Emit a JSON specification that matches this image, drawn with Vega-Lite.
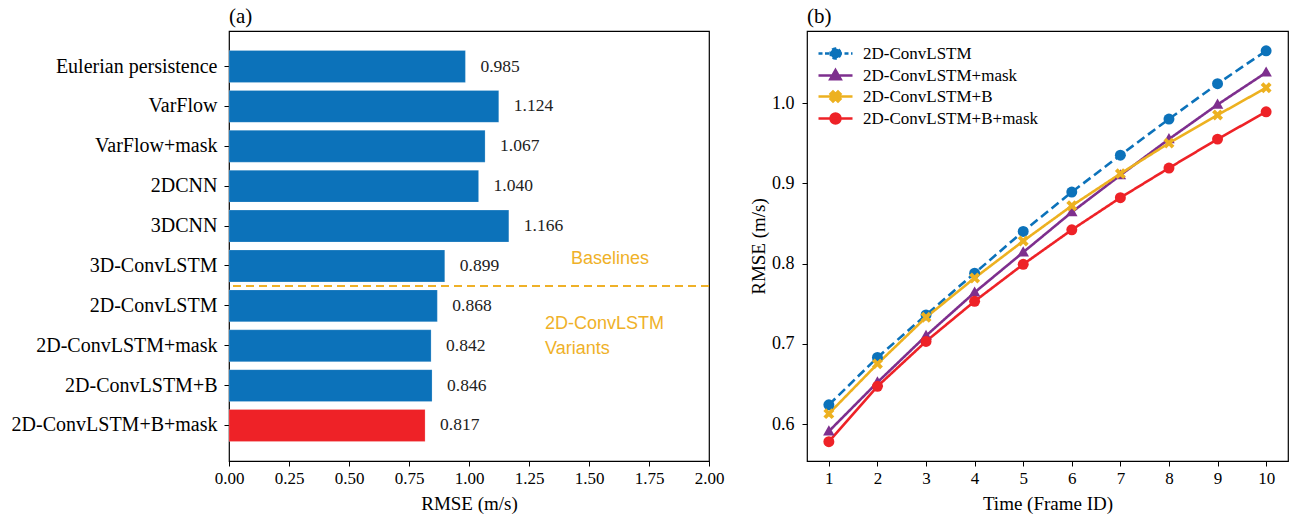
{
  "$schema": "https://vega.github.io/schema/vega-lite/v6.json",
  "background": "white",
  "padding": {"left": 10, "top": 5, "right": 8, "bottom": 6},
  "spacing": 23,
  "resolve": {"scale": {"color": "independent", "x": "independent", "y": "independent"}, "legend": {"color": "independent"}},
  "datasets": {
    "bars": [
      {"model": "Eulerian persistence", "rmse": 0.985, "group": "other"},
      {"model": "VarFlow", "rmse": 1.124, "group": "other"},
      {"model": "VarFlow+mask", "rmse": 1.067, "group": "other"},
      {"model": "2DCNN", "rmse": 1.040, "group": "other"},
      {"model": "3DCNN", "rmse": 1.166, "group": "other"},
      {"model": "3D-ConvLSTM", "rmse": 0.899, "group": "other"},
      {"model": "2D-ConvLSTM", "rmse": 0.868, "group": "other"},
      {"model": "2D-ConvLSTM+mask", "rmse": 0.842, "group": "other"},
      {"model": "2D-ConvLSTM+B", "rmse": 0.846, "group": "other"},
      {"model": "2D-ConvLSTM+B+mask", "rmse": 0.817, "group": "best"}
    ],
    "lines": [
      {"frame": 1, "model": "2D-ConvLSTM", "rmse": 0.624},
      {"frame": 2, "model": "2D-ConvLSTM", "rmse": 0.683},
      {"frame": 3, "model": "2D-ConvLSTM", "rmse": 0.736},
      {"frame": 4, "model": "2D-ConvLSTM", "rmse": 0.788},
      {"frame": 5, "model": "2D-ConvLSTM", "rmse": 0.840},
      {"frame": 6, "model": "2D-ConvLSTM", "rmse": 0.889},
      {"frame": 7, "model": "2D-ConvLSTM", "rmse": 0.935},
      {"frame": 8, "model": "2D-ConvLSTM", "rmse": 0.980},
      {"frame": 9, "model": "2D-ConvLSTM", "rmse": 1.024},
      {"frame": 10, "model": "2D-ConvLSTM", "rmse": 1.065},
      {"frame": 1, "model": "2D-ConvLSTM+mask", "rmse": 0.591},
      {"frame": 2, "model": "2D-ConvLSTM+mask", "rmse": 0.652},
      {"frame": 3, "model": "2D-ConvLSTM+mask", "rmse": 0.710},
      {"frame": 4, "model": "2D-ConvLSTM+mask", "rmse": 0.764},
      {"frame": 5, "model": "2D-ConvLSTM+mask", "rmse": 0.814},
      {"frame": 6, "model": "2D-ConvLSTM+mask", "rmse": 0.864},
      {"frame": 7, "model": "2D-ConvLSTM+mask", "rmse": 0.910},
      {"frame": 8, "model": "2D-ConvLSTM+mask", "rmse": 0.955},
      {"frame": 9, "model": "2D-ConvLSTM+mask", "rmse": 0.998},
      {"frame": 10, "model": "2D-ConvLSTM+mask", "rmse": 1.038},
      {"frame": 1, "model": "2D-ConvLSTM+B", "rmse": 0.613},
      {"frame": 2, "model": "2D-ConvLSTM+B", "rmse": 0.675},
      {"frame": 3, "model": "2D-ConvLSTM+B", "rmse": 0.733},
      {"frame": 4, "model": "2D-ConvLSTM+B", "rmse": 0.782},
      {"frame": 5, "model": "2D-ConvLSTM+B", "rmse": 0.828},
      {"frame": 6, "model": "2D-ConvLSTM+B", "rmse": 0.872},
      {"frame": 7, "model": "2D-ConvLSTM+B", "rmse": 0.912},
      {"frame": 8, "model": "2D-ConvLSTM+B", "rmse": 0.950},
      {"frame": 9, "model": "2D-ConvLSTM+B", "rmse": 0.985},
      {"frame": 10, "model": "2D-ConvLSTM+B", "rmse": 1.019},
      {"frame": 1, "model": "2D-ConvLSTM+B+mask", "rmse": 0.578},
      {"frame": 2, "model": "2D-ConvLSTM+B+mask", "rmse": 0.647},
      {"frame": 3, "model": "2D-ConvLSTM+B+mask", "rmse": 0.703},
      {"frame": 4, "model": "2D-ConvLSTM+B+mask", "rmse": 0.753},
      {"frame": 5, "model": "2D-ConvLSTM+B+mask", "rmse": 0.799},
      {"frame": 6, "model": "2D-ConvLSTM+B+mask", "rmse": 0.842},
      {"frame": 7, "model": "2D-ConvLSTM+B+mask", "rmse": 0.882},
      {"frame": 8, "model": "2D-ConvLSTM+B+mask", "rmse": 0.919},
      {"frame": 9, "model": "2D-ConvLSTM+B+mask", "rmse": 0.955},
      {"frame": 10, "model": "2D-ConvLSTM+B+mask", "rmse": 0.989}
    ]
  },
  "config": {
    "font": "Liberation Serif",
    "view": {"stroke": "black", "strokeWidth": 1.2},
    "axis": {
      "domain": false,
      "grid": false,
      "ticks": true,
      "tickColor": "black",
      "tickSize": 5,
      "tickWidth": 1,
      "labelFlush": false,
      "labelLimit": 400,
      "labelFont": "Liberation Serif",
      "labelFontSize": 17,
      "labelColor": "black",
      "titleFont": "Liberation Serif",
      "titleFontSize": 19,
      "titleFontWeight": "normal",
      "titleColor": "black"
    },
    "title": {"font": "Liberation Serif", "fontSize": 21, "fontWeight": "normal", "anchor": "start", "frame": "group", "color": "black", "offset": 4}
  },
  "hconcat": [
    {
      "width": 480,
      "height": 430,
      "title": "(a)",
      "layer": [
        {
          "data": {"name": "bars"},
          "mark": {"type": "bar", "stroke": "white", "strokeWidth": 0.5, "strokeOpacity": 0.4},
          "encoding": {
            "y": {
              "field": "model",
              "type": "nominal",
              "sort": null,
              "scale": {
                "domain": ["Eulerian persistence", "VarFlow", "VarFlow+mask", "2DCNN", "3DCNN", "3D-ConvLSTM", "2D-ConvLSTM", "2D-ConvLSTM+mask", "2D-ConvLSTM+B", "2D-ConvLSTM+B+mask"],
                "paddingInner": 0.2,
                "paddingOuter": 0.49
              },
              "axis": {"title": null, "labelFontSize": 20, "labelPadding": 7}
            },
            "x": {
              "field": "rmse",
              "type": "quantitative",
              "scale": {"domain": [0, 2], "nice": false},
              "axis": {"title": "RMSE (m/s)", "values": [0, 0.25, 0.5, 0.75, 1, 1.25, 1.5, 1.75, 2], "format": ".2f", "labelPadding": 4, "titlePadding": 8}
            },
            "color": {
              "field": "group",
              "type": "nominal",
              "scale": {"domain": ["other", "best"], "range": ["#0C72BA", "#EE2227"]},
              "legend": null
            }
          }
        },
        {
          "data": {"name": "bars"},
          "mark": {"type": "text", "align": "left", "baseline": "middle", "dx": 15, "fontSize": 17.5, "font": "Liberation Serif", "color": "#222"},
          "encoding": {
            "y": {"field": "model", "type": "nominal", "sort": null},
            "x": {"field": "rmse", "type": "quantitative"},
            "text": {"field": "rmse", "type": "quantitative", "format": ".3f"}
          }
        },
        {
          "data": {"values": [{"after": "3D-ConvLSTM"}]},
          "mark": {"type": "rule", "color": "#EFB128", "strokeWidth": 2, "strokeDash": [8, 5]},
          "encoding": {
            "y": {"field": "after", "type": "nominal", "bandPosition": 1.125}
          }
        },
        {
          "data": {"values": [{"label": "Baselines", "x": 1.425, "y": "3D-ConvLSTM"}]},
          "mark": {"type": "text", "align": "left", "baseline": "middle", "font": "Liberation Sans", "fontSize": 18, "color": "#EFB128"},
          "encoding": {
            "y": {"field": "y", "type": "nominal", "bandPosition": 0.28},
            "x": {"field": "x", "type": "quantitative"},
            "text": {"field": "label"}
          }
        },
        {
          "data": {"values": [{"label": "2D-ConvLSTM\nVariants", "x": 1.317, "y": "2D-ConvLSTM"}]},
          "mark": {"type": "text", "align": "left", "baseline": "middle", "lineBreak": "\n", "lineHeight": 25, "font": "Liberation Sans", "fontSize": 18, "color": "#EFB128"},
          "encoding": {
            "y": {"field": "y", "type": "nominal", "bandPosition": 1.08},
            "x": {"field": "x", "type": "quantitative"},
            "text": {"field": "label"}
          }
        }
      ]
    },
    {
      "width": 481,
      "height": 430,
      "title": "(b)",
      "data": {"name": "lines"},
      "encoding": {
        "x": {
          "field": "frame",
          "type": "quantitative",
          "scale": {"domain": [0.55, 10.45], "nice": false},
          "axis": {"title": "Time (Frame ID)", "values": [1, 2, 3, 4, 5, 6, 7, 8, 9, 10], "labelPadding": 4, "titlePadding": 8}
        },
        "y": {
          "field": "rmse",
          "type": "quantitative",
          "scale": {"domain": [0.554, 1.0897], "nice": false, "zero": false},
          "axis": {"title": "RMSE (m/s)", "values": [0.6, 0.7, 0.8, 0.9, 1.0], "format": ".1f", "labelFontSize": 18, "labelPadding": 8, "titlePadding": 3}
        },
        "color": {
          "field": "model",
          "type": "nominal",
          "sort": null,
          "scale": {"domain": ["2D-ConvLSTM", "2D-ConvLSTM+mask", "2D-ConvLSTM+B", "2D-ConvLSTM+B+mask"], "range": ["#0C72BA", "#7E2F8E", "#EDB120", "#EE2227"]},
          "legend": {
            "title": null,
            "orient": "top-left",
            "offset": 8,
            "fillColor": "white",
            "padding": 6,
            "labelFont": "Liberation Serif",
            "labelFontSize": 17,
            "labelLimit": 400,
            "labelColor": "black",
            "symbolSize": 100,
            "symbolStrokeWidth": 2.5,
            "symbolOffset": 6,
            "labelOffset": 19,
            "rowPadding": 1,
            "encode": {
              "symbols": {
                "update": {
                  "shape": {"signal": "datum.value === '2D-ConvLSTM' || datum.value === '2D-ConvLSTM+B+mask' ? 'M1,0A1,1 0 1,1 -1,0A1,1 0 1,1 1,0Z M-3.4,0L3.4,0' : datum.value === '2D-ConvLSTM+mask' ? 'M0,-1.1L1.05,0.75L-1.05,0.75Z M-3.4,0L3.4,0' : 'M-1,-0.5L-0.5,-1L0,-0.5L0.5,-1L1,-0.5L0.5,0L1,0.5L0.5,1L0,0.5L-0.5,1L-1,0.5L-0.5,0Z M-3.4,0L3.4,0'"},
                  "strokeDash": {"signal": "datum.value === '2D-ConvLSTM' ? [4, 2.5] : []"}
                }
              }
            }
          }
        }
      },
      "layer": [
        {
          "mark": {"type": "line", "strokeWidth": 2.6},
          "encoding": {
            "strokeDash": {
              "field": "model",
              "type": "nominal",
              "scale": {"domain": ["2D-ConvLSTM", "2D-ConvLSTM+mask", "2D-ConvLSTM+B", "2D-ConvLSTM+B+mask"], "range": [[9, 4.5], [1, 0], [1, 0], [1, 0]]},
              "legend": null
            }
          }
        },
        {
          "mark": {"type": "point", "filled": true, "opacity": 1, "size": 120},
          "encoding": {
            "shape": {
              "field": "model",
              "type": "nominal",
              "scale": {"domain": ["2D-ConvLSTM", "2D-ConvLSTM+mask", "2D-ConvLSTM+B", "2D-ConvLSTM+B+mask"], "range": ["circle", "M0,-1.1L1.05,0.75L-1.05,0.75Z", "M-1,-0.5L-0.5,-1L0,-0.5L0.5,-1L1,-0.5L0.5,0L1,0.5L0.5,1L0,0.5L-0.5,1L-1,0.5L-0.5,0Z", "circle"]},
              "legend": null
            }
          }
        }
      ]
    }
  ]
}
